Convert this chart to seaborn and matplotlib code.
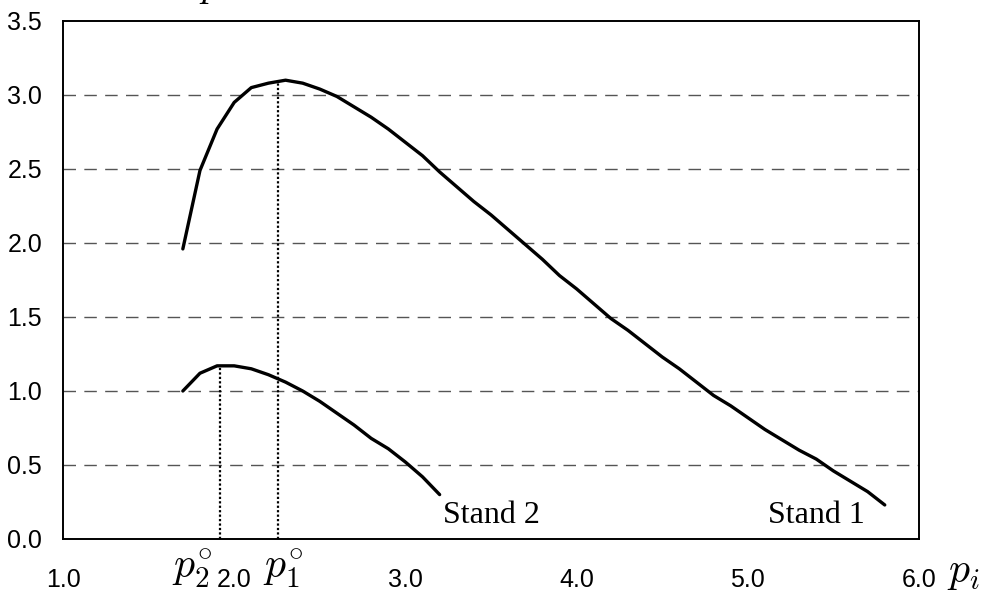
import numpy as np
import pandas as pd
import matplotlib
matplotlib.use("Agg")
import matplotlib.pyplot as plt
import seaborn as sns

# Stand 1 and Stand 2 curves against p_i
p_stand1 = [1.7, 1.8, 1.9, 2.0, 2.1, 2.2, 2.3, 2.4, 2.5, 2.6, 2.7, 2.8, 2.9, 3.0,
            3.1, 3.2, 3.3, 3.4, 3.5, 3.6, 3.7, 3.8, 3.9, 4.0, 4.1, 4.2, 4.3, 4.4,
            4.5, 4.6, 4.7, 4.8, 4.9, 5.0, 5.1, 5.2, 5.3, 5.4, 5.5, 5.6, 5.7, 5.8]
v_stand1 = [1.96, 2.49, 2.77, 2.95, 3.05, 3.08, 3.10, 3.08, 3.04, 2.99, 2.92, 2.85,
            2.77, 2.68, 2.59, 2.48, 2.38, 2.28, 2.19, 2.09, 1.99, 1.89, 1.78, 1.69,
            1.59, 1.49, 1.41, 1.32, 1.23, 1.15, 1.06, 0.97, 0.90, 0.82, 0.74, 0.67,
            0.60, 0.54, 0.46, 0.39, 0.32, 0.23]

p_stand2 = [1.7, 1.8, 1.9, 2.0, 2.1, 2.2, 2.3, 2.4, 2.5, 2.6, 2.7, 2.8, 2.9, 3.0,
            3.1, 3.2]
v_stand2 = [1.00, 1.12, 1.17, 1.17, 1.15, 1.11, 1.06, 1.00, 0.93, 0.85, 0.77, 0.68,
            0.61, 0.52, 0.42, 0.30]

# optimum points p1°, p2° and their curve values
p_opt = [2.256, 1.915]
v_opt = [3.08, 1.17]
opt_labels = [r"$p_1^{\circ}$", r"$p_2^{\circ}$"]

x_ticks = [1.0, 2.0, 3.0, 4.0, 5.0, 6.0]
x_ticklabels = ["1.0", "2.0", "3.0", "4.0", "5.0", "6.0"]
y_ticks = [0.0, 0.5, 1.0, 1.5, 2.0, 2.5, 3.0, 3.5]
y_ticklabels = ["0.0", "0.5", "1.0", "1.5", "2.0", "2.5", "3.0", "3.5"]

curve_labels = ["Stand 1", "Stand 2"]
label_pos = [(5.12, 0.11), (3.22, 0.11)]

df = pd.concat([
    pd.DataFrame({"p": p_stand1, "v": v_stand1, "stand": "Stand 1"}),
    pd.DataFrame({"p": p_stand2, "v": v_stand2, "stand": "Stand 2"}),
])

sns.set_style("white")
plt.rcParams["font.family"] = ["Liberation Sans Narrow", "Liberation Sans", "DejaVu Sans"]
plt.rcParams["mathtext.fontset"] = "cm"

fig = plt.figure(figsize=(9.85, 5.98), dpi=100)
ax = fig.add_axes([63 / 985, 59 / 598, 856 / 985, 518 / 598])

# dashed horizontal grid
for yv in y_ticks[1:-1]:
    ax.axhline(yv, color="#555555", lw=1.0, ls=(0, (9, 6)), zorder=1)

# dotted drops from the maxima
for px, pv in zip(p_opt, v_opt):
    ax.plot([px, px], [0, pv], color="black", lw=1.6, ls=(0, (1, 1)), zorder=2)

sns.lineplot(data=df, x="p", y="v", units="stand", estimator=None,
             color="black", lw=2.4, ax=ax, zorder=3, sort=False)

ax.set_xlim(1.0, 6.0)
ax.set_ylim(0.0, 3.5)
ax.set_xticks(x_ticks)
ax.set_xticklabels(x_ticklabels)
ax.set_yticks(y_ticks)
ax.set_yticklabels(y_ticklabels)
ax.set_xlabel("")
ax.set_ylabel("")
ax.tick_params(axis="x", direction="in", length=6.5, width=1.0, color="black",
               pad=21, labelsize=18)
ax.tick_params(axis="y", length=0, pad=15, labelsize=18)
for lab in ax.get_xticklabels() + ax.get_yticklabels():
    lab.set_color("black")

for sp in ax.spines.values():
    sp.set_visible(True)
    sp.set_color("black")
    sp.set_linewidth(1.4)

for txt, (tx, ty) in zip(curve_labels, label_pos):
    ax.text(tx, ty, txt, family="Liberation Serif", fontsize=23,
            ha="left", va="baseline", color="black")

# symbols under the axis
fig.text(283 / 985, 1 - 577 / 598, opt_labels[0], fontsize=30, ha="center",
         va="baseline", color="black")
fig.text(192 / 985, 1 - 577 / 598, opt_labels[1], fontsize=30, ha="center",
         va="baseline", color="black")
fig.text(963 / 985, 1 - 582 / 598, r"$p_i$", fontsize=30, ha="center",
         va="baseline", color="black")
fig.text(199 / 985, 1 + 4.5 / 598, r"$p$", fontsize=29, ha="left",
         va="baseline", color="black")

legend = ax.get_legend()
if legend is not None:
    legend.remove()

fig.savefig("out.png", dpi=100)
